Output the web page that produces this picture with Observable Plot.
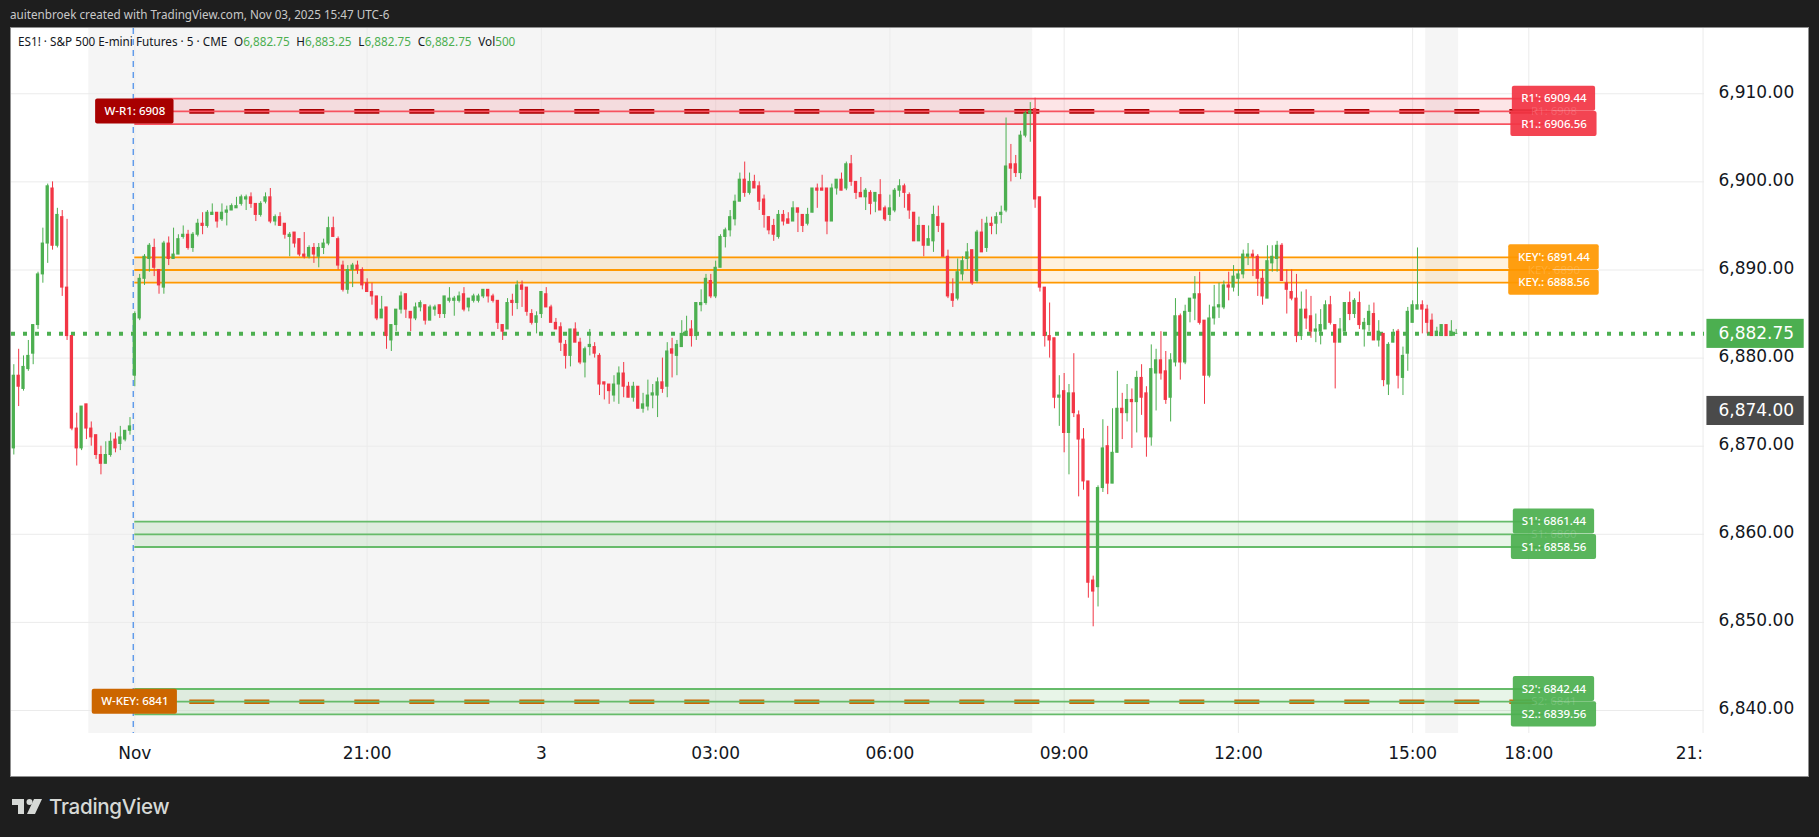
<!DOCTYPE html>
<html>
<head>
<meta charset="utf-8">
<script src="https://cdn.jsdelivr.net/npm/d3@7"></script>
<script src="https://cdn.jsdelivr.net/npm/@observablehq/plot@0.6"></script>
<style>
html,body{margin:0;padding:0;background:#1e1e1e;width:1819px;height:837px;overflow:hidden}
#head{height:27px;padding-left:10px;color:#c9c9c9;box-sizing:border-box}
#head div{font:13.2px/28px "Noto Sans",sans-serif;transform:scaleX(.885);transform-origin:left center;white-space:nowrap}
#frame{position:relative;margin-left:10px;width:1799px;height:750px;box-sizing:border-box;border:1px solid #8f8f8f;background:#fff}
#frame svg{display:block}
#legend{position:absolute;left:7px;top:3px;font:13.1px/20px "Noto Sans",sans-serif;color:#131722;white-space:nowrap;transform:scaleX(.895);transform-origin:left center}
#legend b{font-weight:400;color:#4caf50}
#legend span{margin-left:7.5px}
#foot{position:relative;height:60px}
#foot svg{position:absolute;left:12px;top:22px}
#foot div{position:absolute;left:49px;top:15px;font:500 20.6px/30px Inter,sans-serif;color:#d6d9d6;letter-spacing:-.3px}
</style>
</head>
<body>
<div id="head"><div>auitenbroek created with TradingView.com, Nov 03, 2025 15:47 UTC-6</div></div>
<div id="frame">
<div id="chart"></div>
<div id="legend">ES1! · S&amp;P 500 E-mini Futures · 5 · CME<span>O<b>6,882.75</b></span><span>H<b>6,883.25</b></span><span>L<b>6,882.75</b></span><span>C<b>6,882.75</b></span><span>Vol<b>500</b></span></div>
</div>
<div id="foot">
<svg width="30" height="16" viewBox="0 0 30 16"><path fill="#d6d9d6" d="M0 0H12V15H6V6H0Z"/><circle cx="17.5" cy="3" r="3" fill="#d6d9d6"/><path fill="#d6d9d6" d="M22 0H30L23 15H15Z"/></svg>
<div>TradingView</div>
</div>
<script>
// Bars run from Friday's close into Monday's session; bar 0 is Sunday 17:00, 5-minute bars.
const firstBar = -25;
const opens = [
6869.75,6878,6876.5,6878.75,6880.5,6883.75,6889.5,6893,6899.25,6892.75,
6896,6888,6882.5,6872,6869.75,6874.75,6872,6871.25,6869,6868,
6869,6870.75,6870.25,6870.75,6871.75,6878,6884.5,6889,6891.25,6892.5,
6890,6888,6893,6891.25,6891.75,6893.75,6894,6892.5,6894,6895.25,
6895,6896.25,6896.5,6895.75,6896.5,6896.75,6897,6897.5,6898,6898.25,
6897.5,6896.25,6897.75,6898.25,6895.5,6896,6895.25,6893.75,6894.25,6893.5,
6891.75,6891.5,6892.5,6891.5,6892.5,6893,6894.75,6893.5,6890.5,6887.75,
6890,6890.5,6890,6888.5,6887.5,6887,6884.5,6885.75,6882,6883.75,
6885.5,6887.25,6885.25,6884.5,6885.75,6886,6884.25,6885.5,6886,6885,
6886.5,6886.5,6886.5,6887.25,6885.75,6886.5,6886.5,6887,6887.75,6887,
6886.5,6883.75,6883.25,6886.5,6886.25,6888.25,6888,6885,6884,6885,
6887.25,6885.75,6884,6883.5,6881.5,6880.25,6883.25,6881.75,6879.5,6881.25,
6881.25,6880.25,6877.25,6877,6875.75,6877,6878.25,6876.75,6875.5,6876.75,
6874.25,6874.5,6875.75,6875.75,6877.25,6876.75,6881,6880.25,6881.25,6882.5,
6883.25,6882.5,6886,6886.25,6888.75,6887,6890.25,6893.75,6894.5,6895.75,
6897.75,6900.25,6898.75,6900,6899.5,6898,6896,6895,6893.75,6896.25,
6895.75,6895.5,6897,6896.25,6895.25,6896.5,6899.25,6899.25,6899.25,6895.5,
6899.25,6900.25,6899.25,6902,6900,6898.75,6898.25,6898.75,6897.75,6898.5,
6897,6896.25,6896.75,6899,6899.5,6898.5,6896.5,6893.25,6895,6892.75,
6893.25,6896,6895.25,6891.5,6887.25,6886.75,6889.5,6891.25,6892.25,6888.75,
6894.25,6892.5,6895.25,6895.25,6896.25,6896.75,6902,6902,6901,6905.25,
6907.75,6908.25,6898.25,6888,6882.5,6882.25,6875.5,6876.25,6871.5,6876,
6873.5,6870.75,6866,6854.75,6854,6865.25,6870,6865.75,6869.25,6874.25,
6873.75,6875.25,6875,6877.75,6876,6871,6878.25,6879.75,6878.5,6875.5,
6879.5,6884.75,6879.5,6885.25,6886.75,6887.25,6884.25,6878,6884.5,6885.75,
6885.75,6888.25,6888,6889,6889.5,6891.5,6891.75,6891.5,6889,6886.75,
6890.75,6891.25,6892.75,6888.5,6887.5,6886.75,6882.5,6885.5,6884.75,6883,
6883,6883.25,6886,6883.75,6881.75,6883,6886.25,6885,6886.25,6883.25,
6883.75,6885,6882,6882.75,6877,6881.75,6883,6877.75,6880.5,6884,
6885.5,6886,6885.5,6884.25,6882.5,6882.5,6883.75,6882.5,6882.75
];
const closes = [
6878,6876.75,6879,6880.25,6883.75,6889.5,6893,6899.5,6892.75,6896.25,
6888,6882.5,6872,6869.75,6874.5,6872,6871,6869,6868,6869,
6870.5,6869.75,6871,6871.75,6872.25,6885,6889,6891.5,6892.75,6890.25,
6888.25,6893,6891.25,6891.75,6893.5,6894,6892.5,6894,6895.25,6895,
6896.5,6896.5,6895.5,6896.5,6896.75,6897.25,6897.25,6898.25,6898.25,6897.5,
6896.25,6897.5,6898.25,6895.5,6896,6895,6894,6894,6893,6891.75,
6891.5,6892.5,6891.75,6892.5,6893,6894.75,6893.75,6890.5,6887.75,6890,
6890.5,6890,6888.25,6887.5,6887,6884.5,6885.5,6882.5,6883.75,6885.5,
6887,6885.5,6884.5,6885.75,6886.25,6884.25,6885.75,6885.75,6885,6887,
6886.75,6886.75,6887,6885.5,6886.75,6887,6887,6887.75,6887,6886.5,
6884,6883,6886.25,6886.25,6888.25,6887.75,6885.25,6884,6884.75,6887.5,
6885.75,6884,6883.25,6881.75,6880.25,6883.25,6881.75,6879.5,6881,6881.5,
6880.5,6877,6877,6876.25,6877,6878.25,6876.75,6875.5,6876.75,6874.25,
6874.75,6875.75,6876,6877.25,6876.5,6880.75,6880.5,6881.5,6882.75,6883,
6882.5,6886.25,6886.25,6889,6887,6890.25,6893.75,6894.5,6896,6897.75,
6900.25,6898.75,6900,6899.25,6897.75,6896.25,6894.5,6894,6896.25,6895.5,
6895.25,6897,6896.5,6895,6896.25,6899.25,6899,6899,6895.5,6899.25,
6900.25,6899,6902,6900,6898.75,6898.25,6899,6897.5,6898.75,6896.75,
6895.75,6897,6899,6899.5,6898.75,6896.75,6893.25,6895,6892.75,6893.5,
6896.25,6895,6891.5,6887,6886.5,6889.75,6891,6892,6888.5,6894.25,
6892,6895.25,6895,6896,6896.5,6901.75,6901.5,6901,6905.25,6907.75,
6908,6898,6888,6882.5,6882,6875.5,6875.75,6871.5,6876,6873.75,
6870.75,6866,6854.5,6853.5,6865.25,6869.75,6865.75,6869.25,6874.25,6873.75,
6875.25,6875,6877.75,6875.5,6871,6878.75,6879.75,6878.25,6875.25,6879.75,
6884.75,6879.5,6885.25,6886.75,6887.25,6884,6878,6884.5,6885.75,6886,
6888.25,6888,6889.25,6889.5,6891.75,6891.75,6891.5,6889,6887,6891,
6891.5,6892.75,6888.75,6887.75,6886.75,6882.5,6885.5,6884.5,6883,6883.25,
6883.75,6886,6884,6881.75,6883.25,6886.25,6885,6886.5,6883.75,6884,
6885.25,6882,6883,6877.5,6881.5,6882.75,6878,6880.25,6885.25,6886,
6886,6885.5,6884,6882.5,6883,6883.75,6882.5,6883,6882.75
];
const highs = [
6879.25,6881,6880.25,6882,6883.75,6889.75,6894.75,6899.75,6900,6897,
6896.75,6895.75,6882.5,6873.75,6874.5,6874.75,6872.75,6871.25,6870,6870.5,
6871.5,6871.5,6872.25,6871.75,6873.25,6885.25,6889.5,6891.75,6893,6893.5,
6890,6893.25,6893.75,6894.75,6894,6895,6894.5,6894.25,6895.75,6896.5,
6896.75,6897.5,6896.5,6897.5,6897.25,6897.5,6898.25,6898.5,6898.5,6898.75,
6897.5,6897.75,6898.75,6899.25,6896.25,6896.5,6895.25,6894.25,6894.25,6893.5,
6894.25,6892.75,6893,6893,6893.5,6896,6896,6893.75,6891,6890.5,
6890.75,6891,6890.25,6889,6888.5,6887,6887,6885.75,6883.75,6885.5,
6887.5,6887.25,6885.25,6886.25,6886.5,6886,6886,6886,6886,6887,
6888,6887,6887.5,6888,6886.75,6887.25,6887.25,6887.75,6887.75,6887.25,
6886.5,6883.75,6886.75,6887.25,6888.75,6888.75,6888,6885.5,6885.25,6887.5,
6888,6886,6884.5,6884,6882,6883.25,6884,6882.25,6881.25,6883.25,
6881.75,6880.5,6877.25,6877,6878,6879,6879.5,6877.25,6877.25,6876.75,
6876,6877.5,6877,6877.75,6880,6881.75,6882.25,6882,6884.25,6884.75,
6884.25,6886.25,6887.75,6889.5,6889.5,6891,6894,6894.75,6896.75,6898.5,
6901,6902.25,6901,6900.75,6900,6898.5,6896,6895.75,6896.75,6896.75,
6896.5,6897.75,6897,6896.25,6897,6899.25,6899.75,6900.75,6899.25,6899.75,
6900.25,6901,6902.25,6903,6900,6900.5,6899.25,6899,6898.75,6900.25,
6897.25,6898.5,6899.25,6900.25,6899.75,6898.75,6896.5,6896,6895,6895,
6897.25,6897.25,6895.25,6892.25,6889,6891.25,6891.5,6893,6892.25,6894.5,
6895.75,6896,6896,6896.5,6897.25,6907.25,6904.25,6903,6905.75,6908,
6909,6909.5,6898.25,6888,6886.25,6882.25,6878,6878.25,6877,6880.5,
6874,6872,6866,6855.25,6865.5,6873,6872.25,6874.25,6878.5,6876,
6877,6876.5,6878.5,6879.25,6876.75,6881.5,6881,6883,6880.75,6880.5,
6886.75,6885,6886,6886.75,6889.25,6889.75,6884.25,6886,6888.25,6888.5,
6888.75,6889.75,6890.5,6890,6892.25,6893,6892.25,6891.75,6890,6892.75,
6892.75,6893.25,6893,6890,6890,6889.5,6887.5,6887.75,6887,6885,
6885.5,6886.5,6887,6883.75,6884.5,6886.25,6887.5,6886.75,6887.5,6884.5,
6886,6886.25,6884.25,6882.75,6881.75,6883.25,6883.25,6881.25,6885.75,6886.5,
6892.5,6886.5,6886,6885,6883.5,6883.75,6883.75,6884.25,6883.25
];
const lows = [
6869,6874.5,6876.25,6878.5,6879.25,6883.25,6888.5,6890.75,6892.25,6892.5,
6887,6882,6871.75,6867.75,6869.5,6870.75,6870,6868.5,6866.75,6868,
6868.75,6869.25,6869.5,6870.5,6871.25,6876.75,6884.25,6888.25,6889.75,6889.25,
6887.25,6887.25,6890.5,6891.25,6891.75,6893.5,6892.25,6892,6893.75,6894,
6894.75,6896.25,6894.75,6895.5,6895,6896.75,6897,6897.25,6896.75,6897,
6895.5,6896,6897.5,6895.25,6895,6895,6893.5,6891.5,6892.5,6891.5,
6891.25,6891.25,6890.75,6890.25,6891.75,6892.75,6893.75,6890,6887.5,6887.25,
6888,6889.5,6887.75,6887.5,6886,6884.25,6884.5,6881,6880.75,6883,
6885,6884.5,6883,6884.25,6885.25,6883.75,6884.25,6884.75,6884.5,6884.5,
6886.25,6884.75,6886.25,6885.25,6885.25,6886.25,6886.25,6886.75,6886.25,6886.25,
6883.25,6882,6883.25,6884.75,6885.5,6885.75,6884.75,6883.75,6882.75,6884.5,
6885.75,6884,6883.25,6880.75,6878.75,6879,6881.75,6879.25,6877.75,6880.25,
6880,6875.75,6875.25,6874.75,6875,6874.75,6875.5,6875.5,6875,6874.25,
6873.75,6874,6874.25,6873.25,6876,6875.5,6877.75,6878,6881.25,6882.5,
6881.25,6882,6885.25,6886,6886.75,6886.75,6890.25,6892.5,6893.75,6895,
6897.75,6898.25,6898.5,6899.25,6896.75,6894.75,6894,6893.25,6893.5,6895,
6895.25,6895.5,6894.25,6894.25,6895,6896.5,6897,6899,6894,6895.5,
6898.5,6899,6899,6899.5,6898,6898.25,6896.75,6896.25,6896.5,6896.75,
6895.5,6895.5,6896.5,6898.25,6897,6895.75,6893.25,6893.25,6891.5,6892.75,
6892,6894.25,6891.5,6886.75,6885.75,6886.5,6888.75,6890,6888.25,6888.5,
6892,6892,6894,6894,6895.25,6896.5,6900,6900.5,6900.25,6905,
6904.5,6897,6887.5,6881.25,6880,6874.25,6872.25,6869.25,6866.75,6873.25,
6864.25,6865,6852.75,6849.5,6851.75,6864.75,6864.5,6865.75,6869.25,6870.75,
6872.75,6869.75,6871.5,6873.5,6868.75,6870,6874,6877.5,6874.75,6872.75,
6879,6877.5,6879.25,6884,6884.25,6883.75,6874.75,6877.75,6883.75,6884.5,
6885.5,6886.5,6887.5,6887,6889,6890.5,6889.25,6887,6886,6886.75,
6889.75,6889.75,6888.75,6885,6886.5,6881.75,6882,6883.25,6882.25,6881.75,
6881.5,6883.25,6883.75,6876.5,6881.75,6883,6884.25,6884.5,6883.25,6881.25,
6883,6882,6881.25,6876.75,6875.75,6881.75,6876.5,6875.75,6878.5,6884,
6885.5,6882.75,6882.75,6882.5,6882.5,6882.5,6882.5,6882.5,6882.75
];

const priceTicks = [6840,6850,6860,6870,6880,6890,6900,6910];
const timeTicks = [0,48,84,120,156,192,228,264,288];
const timeLabels = ["Nov","21:00","3","03:00","06:00","09:00","12:00","15:00","18:00"];
const clippedTick = [324];
const allTimeGrid = [...timeTicks, ...clippedTick];

const offHours = [[-9.5,185.5],[266.7,273.5]];
const sessionBreak = [-0.33];

const zoneNames = ["R1","KEY","S1","S2"];
const zoneLow  = [6906.56,6888.56,6858.56,6839.56];
const zoneMid  = [6908,6890,6860,6841];
const zoneHigh = [6909.44,6891.44,6861.44,6842.44];
const midLabels = ["R1: 6908","KEY: 6890","S1: 6860","S2: 6841"];
const upperLabels = ["R1': 6909.44","KEY': 6891.44","S1': 6861.44","S2': 6842.44"];
const lowerLabels = ["R1.: 6906.56","KEY.: 6888.56","S1.: 6858.56","S2.: 6839.56"];

const weeklyLabels = ["W-R1: 6908","W-KEY: 6841"];
const weeklyLevels = [6908,6841];

const lastPrice = 6882.75;
const crossPrice = 6874;

// ---- styling and layout
const zoneLine = ["#f7525f","#ff9800","#66bb6a","#66bb6a"];
const zoneFill = ["#f23645","#ff9800","#4caf50","#4caf50"];
const zoneBox  = ["#f23645","#ff9800","#4caf50","#4caf50"];
const upperHalf = [8.6,9.35,8.4,8.4];
const lowerHalf = [8.9,9.35,8.8,8.8];
const weeklyColor = ["#a80000","#cc6600"];
const weeklyHalf = [8.1,8.8];
const ZONE_END = 293, LABEL_AT = 293.2, LABEL_H = 1.42, AXIS_BOX = [324.8,344.9], AXIS_AT = 335, AXIS_H = 1.65;
const GREEN = "#4caf50", RED = "#f23645";
const BOX_FONT = "'Noto Sans',sans-serif";

const bars = opens.map((o,k)=>({i:firstBar+k,o,c:closes[k],h:highs[k],l:lows[k]}));
const barColor = d => d.c >= d.o ? GREEN : RED;
const zones = zoneNames.map((name,k)=>({k,name,low:zoneLow[k],mid:zoneMid[k],high:zoneHigh[k]}));
const zoneLines = zones.flatMap(z=>[z.low,z.mid,z.high].map(y=>({y,k:z.k})));
const boxes = zones.flatMap(z=>[
  {y:z.high,half:upperHalf[z.k],k:z.k,text:upperLabels[z.k]},
  {y:z.low,half:lowerHalf[z.k],k:z.k,text:lowerLabels[z.k]}
]);
const weekly = weeklyLevels.map((y,k)=>({y,k,text:weeklyLabels[k]}));
const axisBoxes = [{y:lastPrice,fill:GREEN},{y:crossPrice,fill:"#4a4a4a"}];
const xLabel = d3.scaleOrdinal(timeTicks,timeLabels);
const INK = "#131722";

const chart = Plot.plot({
  width:1797, height:748,
  marginLeft:0, marginRight:104, marginTop:0, marginBottom:43,
  style:{fontFamily:"'DejaVu Sans',sans-serif",background:"#fff",overflow:"visible"},
  x:{domain:[-25.48,324.3],axis:null},
  y:{domain:[6837.39,6917.41],axis:null},
  marks:[
    Plot.rect(offHours,{x1:d=>d[0],x2:d=>d[1],fill:"#f5f5f5"}),
    Plot.ruleX(allTimeGrid,{stroke:"#ebebeb",strokeWidth:1}),
    Plot.ruleY(priceTicks,{stroke:"#ebebeb",strokeWidth:1}),
    Plot.ruleX(sessionBreak,{stroke:"#4188e8",strokeWidth:1.2,strokeDasharray:"6 5"}),
    Plot.rect(zones,{x1:0,x2:ZONE_END,y1:"low",y2:"high",fill:d=>zoneFill[d.k],fillOpacity:.13}),
    Plot.ruleY(weekly,{y:"y",x1:0,x2:ZONE_END,stroke:d=>weeklyColor[d.k],strokeWidth:4.6,strokeDasharray:"25 30"}),
    Plot.ruleY(zoneLines,{y:"y",x1:0,x2:ZONE_END,stroke:d=>zoneLine[d.k],strokeWidth:1.8}),
    Plot.ruleY([lastPrice],{stroke:GREEN,strokeWidth:4,strokeDasharray:"4 8"}),
    Plot.ruleX(bars,{x:"i",y1:"l",y2:"h",stroke:barColor,strokeWidth:1}),
    Plot.rect(bars,{x1:d=>d.i-.34,x2:d=>d.i+.34,y1:d=>Math.min(d.o,d.c),y2:d=>Math.max(d.o,d.c),fill:barColor,insetTop:-.5,insetBottom:-.5}),
    Plot.rect(boxes,{x1:d=>LABEL_AT-d.half,x2:d=>LABEL_AT+d.half,y1:d=>d.y-LABEL_H,y2:d=>d.y+LABEL_H,fill:d=>zoneBox[d.k],fillOpacity:.93,rx:2}),
    Plot.text(zones,{x:LABEL_AT,y:"mid",text:d=>midLabels[d.k],fill:"#fff",fillOpacity:.16,fontSize:11.5,fontFamily:BOX_FONT}),
    Plot.text(boxes,{x:LABEL_AT,y:"y",text:"text",fill:"#fff",fontSize:11.5,fontWeight:500,fontFamily:BOX_FONT}),
    Plot.rect(weekly,{x1:d=>-weeklyHalf[d.k],x2:d=>weeklyHalf[d.k],y1:d=>d.y-LABEL_H,y2:d=>d.y+LABEL_H,fill:d=>weeklyColor[d.k],rx:2}),
    Plot.text(weekly,{x:0,y:"y",text:"text",fill:"#fff",fontSize:11.5,fontWeight:500,fontFamily:BOX_FONT}),
    Plot.axisY({anchor:"right",ticks:priceTicks,tickFormat:d3.format(",.2f"),tickSize:0,tickPadding:14,fontSize:17,color:INK,label:null,dy:-1.7}),
    Plot.rect(axisBoxes,{x1:AXIS_BOX[0],x2:AXIS_BOX[1],y1:d=>d.y-AXIS_H,y2:d=>d.y+AXIS_H,fill:"fill"}),
    Plot.text(axisBoxes,{x:AXIS_AT,y:"y",text:d=>d3.format(",.2f")(d.y),fill:"#fff",fontSize:17,dy:-0.5}),
    Plot.axisX({anchor:"bottom",ticks:timeTicks,tickFormat:d=>xLabel(d),tickSize:0,tickPadding:13,fontSize:17,color:INK,label:null}),
    Plot.axisX({anchor:"bottom",ticks:clippedTick,tickFormat:()=>"21:",textAnchor:"end",tickSize:0,tickPadding:13,fontSize:17,color:INK,label:null})
  ]
});
document.getElementById("chart").appendChild(chart);
</script>
</body>
</html>
